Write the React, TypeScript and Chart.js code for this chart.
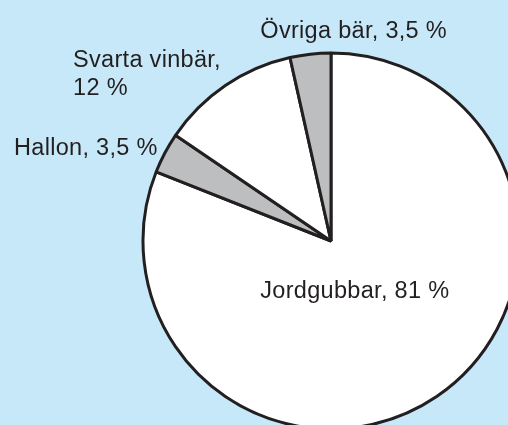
import React, { useEffect, useRef } from "react";
import { Chart, registerables } from "chart.js";

Chart.register(...registerables);

const categories = ["Jordgubbar", "Hallon", "Svarta vinbär", "Övriga bär"];
const shares = [81, 3.5, 12, 3.5];
const shareLabels = ["81 %", "3,5 %", "12 %", "3,5 %"];
const sliceColors = ["#ffffff", "#bcbec0", "#ffffff", "#bcbec0"];

// label lines per slice
const labelLines = [
  ["Jordgubbar, 81 %"],
  ["Hallon, 3,5 %"],
  ["Svarta vinbär,", "12 %"],
  ["Övriga bär, 3,5 %"],
];
// label placement relative to pie center, in units of radius (left-aligned, baseline)
const labelPlacement = [
  { dx: -0.376, dy: 0.302 },
  { dx: -1.686, dy: -0.455 },
  { dx: -1.372, dy: -0.928 },
  { dx: -0.376, dy: -1.081 },
];

const BG = "#c6e8f8";
const INK = "#231f20";

const labelPlugin = {
  id: "sliceLabels",
  afterDatasetsDraw(chart: any) {
    const meta = chart.getDatasetMeta(0);
    if (!meta || !meta.data.length) return;
    const { x, y, outerRadius } = meta.data[0].getProps(["x", "y", "outerRadius"], true);
    const ctx = chart.ctx;
    ctx.save();
    ctx.fillStyle = INK;
    ctx.font = "23.5px 'Liberation Sans', Arial, sans-serif";
    try {
      (ctx as any).letterSpacing = "0.3px";
    } catch (e) {}
    ctx.textAlign = "left";
    ctx.textBaseline = "alphabetic";
    labelLines.forEach((lines, i) => {
      const p = labelPlacement[i];
      const lx = x + p.dx * outerRadius;
      const ly = y + p.dy * outerRadius;
      lines.forEach((t, j) => {
        ctx.fillText(t, lx, ly + j * 28.6);
      });
    });
    ctx.restore();
  },
};

export default function App() {
  const ref = useRef<HTMLCanvasElement>(null);
  useEffect(() => {
    if (!ref.current) return;
    const chart = new Chart(ref.current, {
      type: "pie",
      data: {
        labels: categories.map((c, i) => `${c}, ${shareLabels[i]}`),
        datasets: [
          {
            data: shares,
            backgroundColor: sliceColors,
            borderColor: INK,
            borderWidth: 3,
            clip: false as any,
          } as any,
        ],
      },
      options: {
        animation: false,
        responsive: false,
        radius: 188,
        layout: { padding: { left: 154, right: 0, top: 57, bottom: 0 } },
        plugins: {
          legend: { display: false },
          tooltip: { enabled: false },
        },
      } as any,
      plugins: [labelPlugin],
    });
    return () => chart.destroy();
  }, []);
  return (
    <div
      style={{
        position: "fixed",
        left: 0,
        top: 0,
        width: 508,
        height: 425,
        overflow: "hidden",
        background: BG,
      }}
    >
      <canvas ref={ref} width={508} height={425} />
    </div>
  );
}
